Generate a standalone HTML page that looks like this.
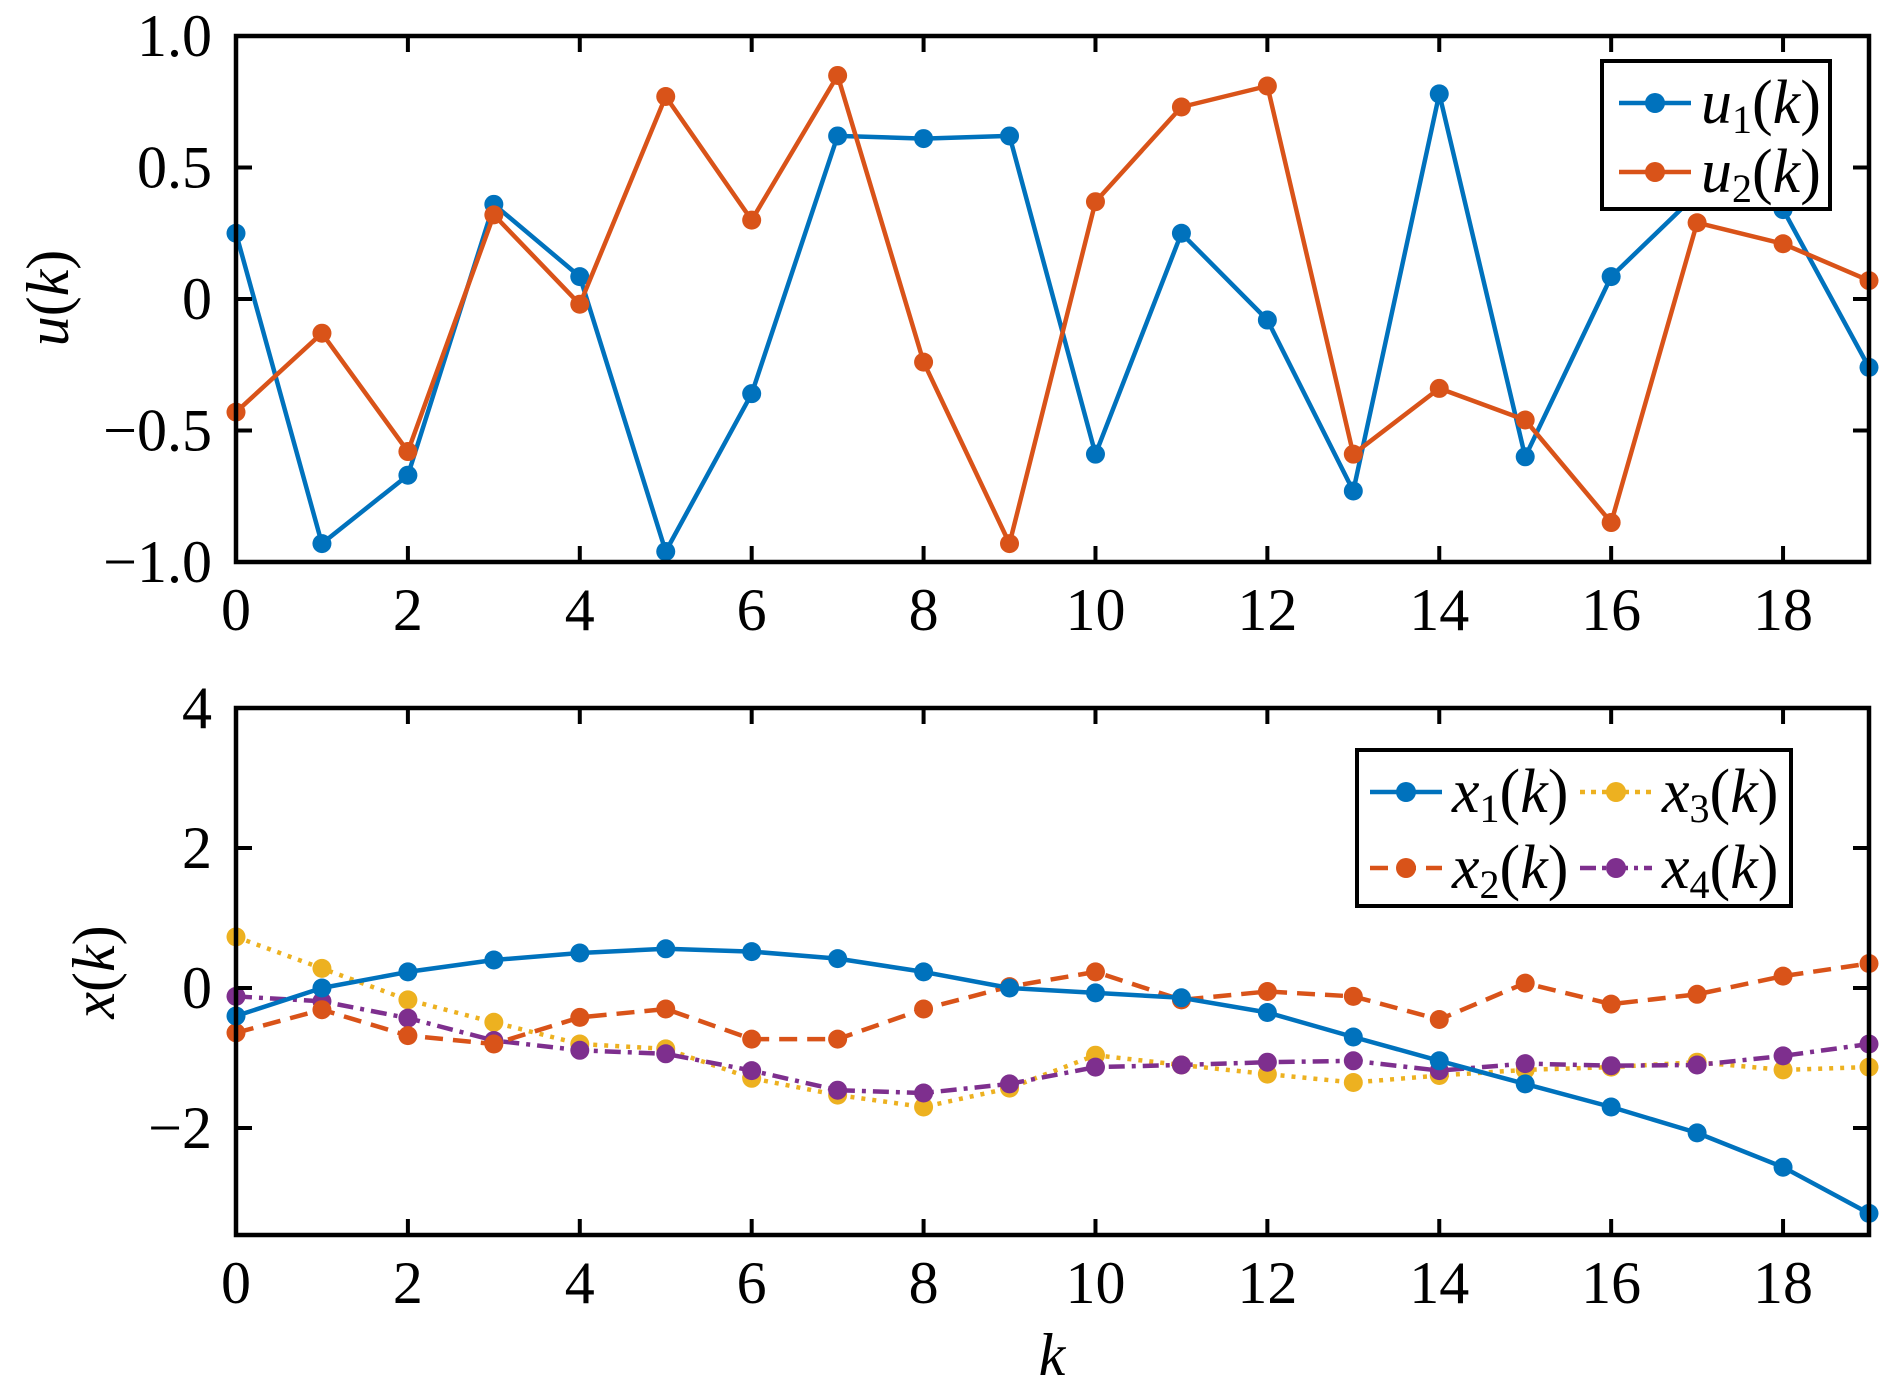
<!DOCTYPE html>
<html><head><meta charset="utf-8"><style>
html,body{margin:0;padding:0;background:#fff;width:1890px;height:1391px;overflow:hidden}
svg{display:block}
svg text{font-family:"Liberation Serif","Times New Roman",Times,serif;fill:#000}
</style></head><body>
<svg id="s" width="1890" height="1391" viewBox="0 0 1890 1391" xmlns="http://www.w3.org/2000/svg" font-family="Liberation Serif, Times New Roman, serif">
<g id="g"></g>
</svg>
<script>
const NS="http://www.w3.org/2000/svg";
const g=document.getElementById('g');
const FF="Liberation Serif";
function el(t,a,txt){const e=document.createElementNS(NS,t);for(const k in a)e.setAttribute(k,a[k]);if(t==="text")e.setAttribute("font-family",FF);if(txt!==undefined)e.textContent=txt;g.appendChild(e);return e;}
const L=236,R=1869;
const X=k=>L+k*(R-L)/19;
const T1=36,B1=562; const Y1=v=>T1+(1-v)*(B1-T1)/2;
const T2=708,B2=1235; const Y2=v=>T2+(4-v)*70;
const C={b:"#0072BD",o:"#D95319",y:"#EDB120",p:"#7E2F8E"};
const u1=[0.25,-0.93,-0.67,0.36,0.085,-0.96,-0.36,0.62,0.61,0.62,-0.59,0.25,-0.08,-0.73,0.78,-0.60,0.085,0.40,0.34,-0.26];
const u2=[-0.43,-0.13,-0.58,0.32,-0.02,0.77,0.30,0.85,-0.24,-0.93,0.37,0.73,0.81,-0.59,-0.34,-0.46,-0.85,0.29,0.21,0.07];
const x1=[-0.40,0,0.23,0.40,0.50,0.56,0.52,0.42,0.23,0.0,-0.07,-0.14,-0.35,-0.70,-1.04,-1.37,-1.70,-2.07,-2.56,-3.22];
const x2=[-0.64,-0.31,-0.68,-0.80,-0.42,-0.30,-0.73,-0.73,-0.30,0.02,0.23,-0.17,-0.05,-0.12,-0.45,0.07,-0.23,-0.09,0.17,0.35];
const x3=[0.73,0.28,-0.17,-0.49,-0.80,-0.87,-1.29,-1.53,-1.70,-1.43,-0.96,-1.10,-1.23,-1.35,-1.25,-1.17,-1.13,-1.06,-1.17,-1.13];
const x4=[-0.12,-0.19,-0.43,-0.75,-0.89,-0.94,-1.18,-1.46,-1.50,-1.37,-1.13,-1.10,-1.06,-1.04,-1.18,-1.08,-1.11,-1.10,-0.97,-0.80];
function series(d,Y,c,dash){
  const pts=d.map((v,k)=>X(k).toFixed(1)+","+Y(v).toFixed(1)).join(" ");
  const a={points:pts,fill:"none",stroke:c,"stroke-width":4.5,"stroke-linejoin":"round"};
  if(dash)a["stroke-dasharray"]=dash;
  el("polyline",a);
  d.forEach((v,k)=>el("circle",{cx:X(k),cy:Y(v),r:9.5,fill:c}));
}
function axes(T,B,yt,Y){
  for(let k=0;k<=18;k+=2){
    el("line",{x1:X(k),x2:X(k),y1:B,y2:B-16,stroke:"#000","stroke-width":4});
    el("line",{x1:X(k),x2:X(k),y1:T,y2:T+16,stroke:"#000","stroke-width":4});
    el("text",{x:X(k),y:B+68,"font-size":60,"text-anchor":"middle"},String(k));
  }
  yt.forEach(([v,s])=>{
    el("line",{x1:L,x2:L+16,y1:Y(v),y2:Y(v),stroke:"#000","stroke-width":4});
    el("line",{x1:R,x2:R-16,y1:Y(v),y2:Y(v),stroke:"#000","stroke-width":4});
    el("text",{x:212,y:Y(v)+20,"font-size":60,"text-anchor":"end"},s);
  });
  el("rect",{x:L,y:T,width:R-L,height:B-T,fill:"none",stroke:"#000","stroke-width":4.5});
}
series(u1,Y1,C.b); series(u2,Y1,C.o);
axes(T1,B1,[[1,"1.0"],[0.5,"0.5"],[0,"0"],[-0.5,"\u22120.5"],[-1,"\u22121.0"]],Y1);
series(x3,Y2,C.y,"4 7"); series(x4,Y2,C.p,"16 7 4 7"); series(x2,Y2,C.o,"18 10"); series(x1,Y2,C.b);
axes(T2,B2,[[4,"4"],[2,"2"],[0,"0"],[-2,"\u22122"]],Y2);
let t=el("text",{x:0,y:0,"font-size":60,"text-anchor":"middle",transform:"translate(68,298) rotate(-90)"});
t.innerHTML='<tspan font-style="italic">u</tspan>(<tspan font-style="italic">k</tspan>)';
t=el("text",{x:0,y:0,"font-size":60,"text-anchor":"middle",transform:"translate(114,972) rotate(-90)"});
t.innerHTML='<tspan font-style="italic">x</tspan>(<tspan font-style="italic">k</tspan>)';
el("text",{x:1052,y:1375,"font-size":60,"text-anchor":"middle","font-style":"italic"},"k");
el("rect",{x:1602,y:61,width:228,height:148,fill:"#fff",stroke:"#000","stroke-width":4});
function lg(x,y,c,dash,sym,sub){
  const a={x1:x,x2:x+72,y1:y,y2:y,stroke:c,"stroke-width":4.5};if(dash)a["stroke-dasharray"]=dash;
  el("line",a);el("circle",{cx:x+36,cy:y,r:10,fill:c});
  const tt=el("text",{x:x+82,y:y+20,"font-size":62});
  tt.innerHTML='<tspan font-style="italic">'+sym+'</tspan><tspan font-size="40" dy="10">'+sub+'</tspan><tspan dy="-10">(</tspan><tspan font-style="italic">k</tspan>)';
}
lg(1619,103,C.b,null,"u","1");
lg(1619,172,C.o,null,"u","2");
el("rect",{x:1357,y:750,width:434,height:156,fill:"#fff",stroke:"#000","stroke-width":4});
lg(1370,792,C.b,null,"x","1");
lg(1370,868,C.o,"18 10","x","2");
lg(1580,792,C.y,"5 6","x","3");
lg(1580,868,C.p,"16 6 4 6","x","4");
</script>
</body></html>
